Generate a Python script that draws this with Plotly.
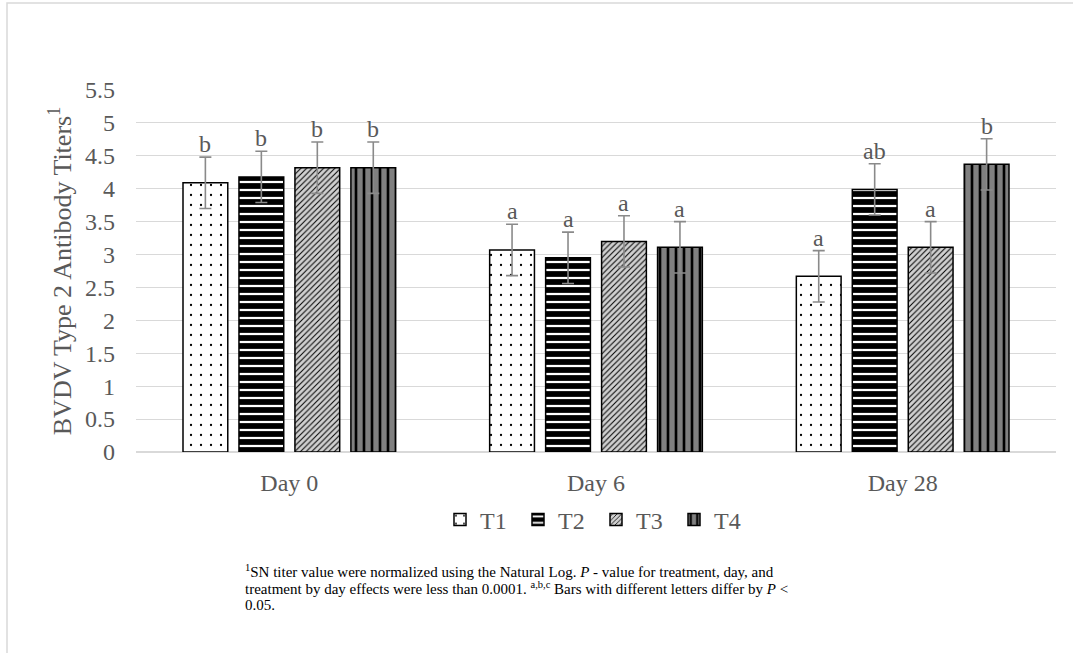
import plotly.graph_objects as go

# ---------------- data ----------------
days = ["Day 0", "Day 6", "Day 28"]
series_names = ["T1", "T2", "T3", "T4"]

t1_vals = [4.09, 3.07, 2.67]
t2_vals = [4.18, 2.95, 3.99]
t3_vals = [4.32, 3.20, 3.11]
t4_vals = [4.32, 3.11, 4.37]

t1_err = [0.39, 0.39, 0.39]
t2_err = [0.39, 0.39, 0.39]
t3_err = [0.39, 0.39, 0.39]
t4_err = [0.39, 0.39, 0.39]

t1_letters = ["b", "a", "a"]
t2_letters = ["b", "a", "ab"]
t3_letters = ["b", "a", "a"]
t4_letters = ["b", "a", "b"]

y_ticks = [0, 0.5, 1, 1.5, 2, 2.5, 3, 3.5, 4, 4.5, 5, 5.5]
y_tick_labels = ["0", "0.5", "1", "1.5", "2", "2.5", "3", "3.5", "4", "4.5", "5", "5.5"]

footnote_lines = [
    "<sup>1</sup>SN titer value were normalized using the Natural Log. <i>P</i> - value for treatment, day, and",
    "treatment by day effects were less than 0.0001. <sup>a,b,c</sup> Bars with different letters differ by <i>P</i> <",
    "0.05.",
]

# ---------------- styles ----------------
patterns = [
    dict(shape=".", bgcolor="#ffffff", fgcolor="#000000", size=10, solidity=0.04, fillmode="replace"),
    dict(shape="-", bgcolor="#000000", fgcolor="#ffffff", size=8, solidity=0.28, fillmode="replace"),
    dict(shape="/", bgcolor="#d0d0d0", fgcolor="#000000", size=4, solidity=0.25, fillmode="replace"),
    dict(shape="|", bgcolor="#808080", fgcolor="#000000", size=8, solidity=0.33, fillmode="replace"),
]
base_colors = ["#ffffff", "#000000", "#d0d0d0", "#808080"]

FONT = "Liberation Serif, Times New Roman, serif"
TXT = "#595959"
W, H = 1073, 653
ML, MR, MT, MB = 136, 17, 90, 201
BARGAP, GROUPGAP = 0.27, 0.2

all_vals = [t1_vals, t2_vals, t3_vals, t4_vals]
all_errs = [t1_err, t2_err, t3_err, t4_err]
all_letters = [t1_letters, t2_letters, t3_letters, t4_letters]

xpos = list(range(len(days)))
n = len(series_names)
slot = (1 - BARGAP) / n

fig = go.Figure()
for j, name in enumerate(series_names):
    fig.add_trace(go.Bar(
        name=name, x=xpos, y=all_vals[j],
        marker=dict(color=base_colors[j], pattern=patterns[j],
                    line=dict(color="#000000", width=1.5)),
        error_y=dict(type="data", array=all_errs[j], color="#8a8a8a", thickness=1.6, width=6),
    ))

annotations = []
for j in range(n):
    off = -(1 - BARGAP) / 2 + (j + 0.5) * slot
    for i in range(len(days)):
        annotations.append(dict(
            x=xpos[i] + off, y=all_vals[j][i] + all_errs[j][i], xref="x", yref="y",
            text=all_letters[j][i], showarrow=False, yanchor="bottom", yshift=-2,
            font=dict(family=FONT, size=24, color=TXT),
        ))

plot_w = W - ML - MR
plot_h = H - MT - MB


def px_x(p):
    return (p - ML) / plot_w


def px_y(p):
    return (H - MB - p) / plot_h


for k, line in enumerate(footnote_lines):
    annotations.append(dict(
        x=px_x(243), y=px_y(571 + 17 * k), xref="paper", yref="paper",
        xanchor="left", yanchor="middle", align="left", showarrow=False,
        text=line, font=dict(family=FONT, size=15, color="#000000"),
    ))

fig.update_layout(
    width=W, height=H,
    margin=dict(l=ML, r=MR, t=MT, b=MB, pad=0),
    paper_bgcolor="#ffffff", plot_bgcolor="#ffffff",
    barmode="group", bargap=BARGAP, bargroupgap=GROUPGAP,
    font=dict(family=FONT, color=TXT),
    showlegend=True,
    legend=dict(orientation="h", x=0.5, xanchor="center", y=px_y(520), yanchor="middle",
                font=dict(family=FONT, size=24, color=TXT), itemwidth=30,
                entrywidth=33, entrywidthmode="pixels",
                bgcolor="rgba(0,0,0,0)"),
    annotations=annotations,
    shapes=[dict(type="rect", xref="paper", yref="paper",
                 x0=px_x(7), x1=px_x(1090), y0=px_y(670), y1=px_y(3),
                 line=dict(color="#d9d9d9", width=1.5), fillcolor="rgba(0,0,0,0)", layer="below")],
)

fig.update_xaxes(
    range=[-0.5, len(days) - 0.5], tickvals=xpos, ticktext=days,
    showgrid=False, zeroline=False, showline=False, ticks="",
    tickfont=dict(family=FONT, size=24, color=TXT), ticklabelstandoff=14,
)
fig.update_yaxes(
    range=[0, 5.5], tickvals=y_ticks, ticktext=y_tick_labels,
    showgrid=True, gridcolor="#d9d9d9", gridwidth=1,
    zeroline=True, zerolinecolor="#d9d9d9", zerolinewidth=1.5,
    showline=False, ticks="",
    tickfont=dict(family=FONT, size=24, color=TXT), ticklabelstandoff=20,
    title=dict(text="BVDV Type 2 Antibody Titers<sup>1</sup>", standoff=5,
               font=dict(family=FONT, size=26, color=TXT)),
)

fig.write_html("out.html")
